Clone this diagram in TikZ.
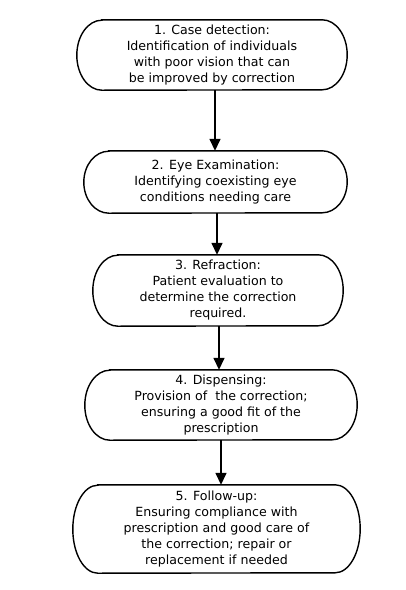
\documentclass[tikz,border=0pt]{standalone}
\usepackage{fontspec}
\setmainfont{DejaVu Sans}
\usetikzlibrary{arrows.meta}
\begin{document}
\begin{tikzpicture}[x=1pt,y=-1pt,
  stepbox/.style={rectangle, draw=none, align=center, inner sep=0pt,
    font=\fontsize{12.6}{16}\selectfont},
  boxline/.style={line width=1.4pt},
  flow/.style={-{Triangle[length=12pt,width=11pt]}, line width=1.5pt}]
\useasboundingbox (0,0) rectangle (406,590);
\newcommand\capsule[2]{%
  \draw[boxline] ([xshift=25pt]#1.north west) -- ([xshift=-25pt]#1.north east)
    arc[start angle=90, end angle=-90, x radius=25pt, y radius=#2]
    -- ([xshift=25pt]#1.south west)
    arc[start angle=270, end angle=90, x radius=25pt, y radius=#2] -- cycle;}
\node[stepbox, minimum width=270pt, minimum height=70pt] (b1) at (212,55)
  {1. Case detection:\\Identification of individuals\\with poor vision that can\\be improved by correction};
\node[stepbox, minimum width=263pt, minimum height=62pt] (b2) at (215.5,182)
  {2. Eye Examination:\\Identifying coexisting eye\\ conditions needing care};
\node[stepbox, minimum width=250pt, minimum height=71pt] (b3) at (218,290.5)
  {3. Refraction:\\Patient evaluation to\\ determine the correction\\required.};
\node[stepbox, minimum width=272pt, minimum height=70pt] (b4) at (221,405)
  {4. Dispensing:\\Provision of\ \ the correction;\\ensuring a good fit of the\\prescription};
\node[stepbox, minimum width=287pt, minimum height=88pt] (b5) at (216.5,529)
  {5. Follow-up:\\Ensuring compliance with\\prescription and good care of\\the correction; repair or\\replacement if needed};
\capsule{b1}{35pt}
\capsule{b2}{31pt}
\capsule{b3}{35.5pt}
\capsule{b4}{35pt}
\capsule{b5}{44pt}
\draw[flow] ([xshift=3pt]b1.south) -- ([xshift=3pt]b1.south |- b2.north);
\draw[flow] ([xshift=1.5pt]b2.south) -- ([xshift=1.5pt]b2.south |- b3.north);
\draw[flow] ([xshift=1pt]b3.south) -- ([xshift=1pt]b3.south |- b4.north);
\draw[flow] (b4.south) -- (b4.south |- b5.north);
\end{tikzpicture}
\end{document}
